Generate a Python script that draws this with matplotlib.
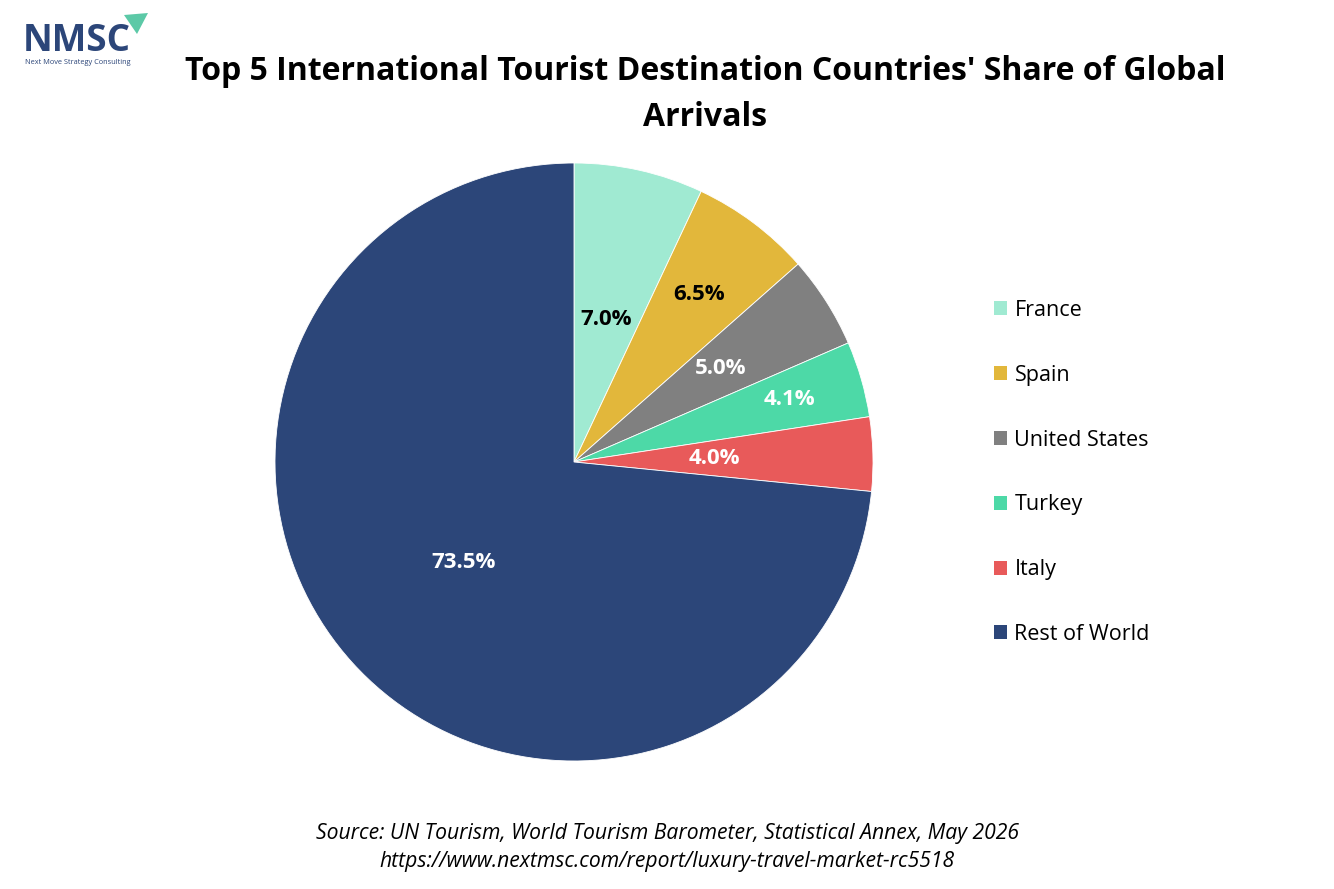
import matplotlib
matplotlib.use("Agg")
import matplotlib.pyplot as plt
from matplotlib.patches import Polygon, Patch
import numpy as np

categories = ["France", "Spain", "United States", "Turkey", "Italy", "Rest of World"]
shares = [7.0, 6.5, 5.0, 4.1, 4.0, 73.5]

colors = ["#A0EAD2", "#E2B73B", "#808080", "#4DD9A7", "#E85A5A", "#2C4679"]
label_colors = ["black", "black", "white", "white", "white", "white"]
label_radius = [0.49, 0.70, 0.58, 0.75, 0.47, 0.50]

W, H = 1334, 889
fig = plt.figure(figsize=(W / 100, H / 100), dpi=100)
fig.patch.set_facecolor("white")

FONT = "Open Sans"

# pie axes
cx, cy, r = 574, 462, 299
ax = fig.add_axes([(cx - r) / W, (H - cy - r) / H, 2 * r / W, 2 * r / H])
wedges, _ = ax.pie(shares, colors=colors, startangle=90, counterclock=False,
                   radius=1.0, wedgeprops=dict(linewidth=0.6, edgecolor="white"))
ax.set_xlim(-1, 1)
ax.set_ylim(-1, 1)
ax.set_aspect("equal")
ax.axis("off")

for w, val, col, rad in zip(wedges, shares, label_colors, label_radius):
    ang = np.deg2rad((w.theta1 + w.theta2) / 2)
    ax.text(rad * np.cos(ang), rad * np.sin(ang), f"{val:.1f}%", ha="center", va="center",
            color=col, fontsize=16, fontweight="bold", family=FONT)

# title
fig.text(705 / W, 1 - 72 / H, "Top 5 International Tourist Destination Countries' Share of Global",
         ha="center", va="center", fontsize=23, fontweight="bold", family=FONT)
fig.text(705 / W, 1 - 117 / H, "Arrivals", ha="center", va="center",
         fontsize=23, fontweight="bold", family=FONT)

# legend
handles = [Patch(facecolor=c, edgecolor="none") for c in colors]
leg = fig.legend(handles, categories, loc="upper left", bbox_to_anchor=(994 / W, 1 - 300 / H),
                 frameon=False, prop=dict(family=FONT, size=15.5), handlelength=0.62,
                 handleheight=0.62, handletextpad=0.33, labelspacing=2.035, borderaxespad=0,
                 borderpad=0)

# source
fig.text(667 / W, 1 - 834 / H, "Source: UN Tourism, World Tourism Barometer, Statistical Annex, May 2026",
         ha="center", va="center", fontsize=15.2, style="italic", family=FONT)
fig.text(667 / W, 1 - 862 / H, "https://www.nextmsc.com/report/luxury-travel-market-rc5518",
         ha="center", va="center", fontsize=15.2, style="italic", family=FONT)

# logo
fig.text(23 / W, 1 - 41 / H, "NMSC", ha="left", va="center", fontsize=26.5, fontweight="bold",
         color="#2C4679", family=FONT)
fig.text(25 / W, 1 - 62 / H, "Next Move Strategy Consulting", ha="left", va="center", fontsize=5.3,
         color="#2C4679", family=FONT)
tri = Polygon([[124 / W, 1 - 15 / H], [148 / W, 1 - 13 / H], [137 / W, 1 - 34 / H]],
              closed=True, transform=fig.transFigure, facecolor="#5CC9A7", edgecolor="none")
fig.patches.append(tri)

fig.savefig("out.png", dpi=100, facecolor="white")
